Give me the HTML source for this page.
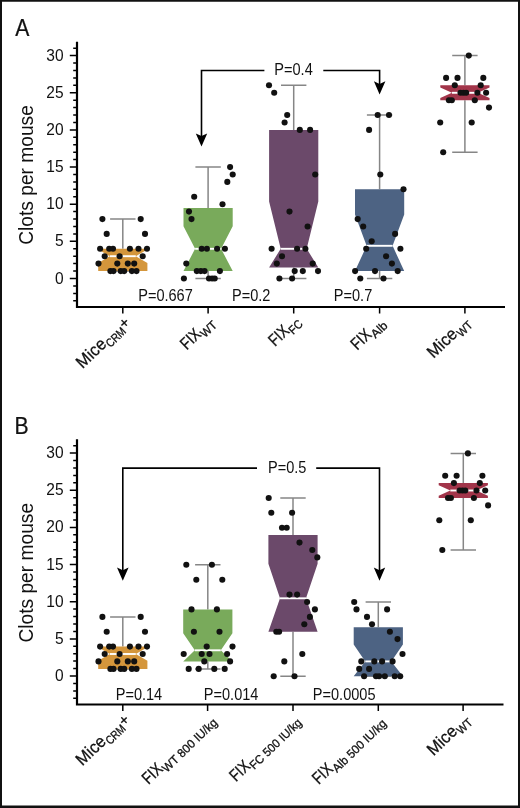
<!DOCTYPE html>
<html><head><meta charset="utf-8"><title>Figure</title>
<style>
html,body{margin:0;padding:0;background:#fff}
svg{display:block}
text{font-family:"Liberation Sans",sans-serif;fill:#111}
.tk{font-size:16px}
.pv{font-size:16px}
.yl{font-size:20.8px}
.pl{font-size:23.5px}
.xl{font-size:15px}
.xg text{stroke:#111;stroke-width:0.3px}
.pl{stroke:#111;stroke-width:0.25px}
</style></head><body>
<svg width="520" height="808" viewBox="0 0 520 808">
<rect x="0" y="0" width="520" height="808" fill="#fff"/>
<g id="panelA">
<path d="M77.0 41.7V307.0H505" stroke="#000" stroke-width="2.2" fill="none" stroke-linejoin="miter"/>
<path d="M73.2 300.8H77.0M73.2 293.4H77.0M73.2 285.9H77.0M69.8 278.5H77.0M73.2 271.1H77.0M73.2 263.6H77.0M73.2 256.2H77.0M73.2 248.8H77.0M69.8 241.3H77.0M73.2 233.9H77.0M73.2 226.5H77.0M73.2 219.1H77.0M73.2 211.6H77.0M69.8 204.2H77.0M73.2 196.8H77.0M73.2 189.3H77.0M73.2 181.9H77.0M73.2 174.5H77.0M69.8 167.1H77.0M73.2 159.6H77.0M73.2 152.2H77.0M73.2 144.8H77.0M73.2 137.3H77.0M69.8 129.9H77.0M73.2 122.5H77.0M73.2 115.0H77.0M73.2 107.6H77.0M73.2 100.2H77.0M69.8 92.8H77.0M73.2 85.3H77.0M73.2 77.9H77.0M73.2 70.5H77.0M73.2 63.0H77.0M69.8 55.6H77.0M73.2 48.2H77.0M122.8 307.0V313.6M208.1 307.0V313.6M293.7 307.0V313.6M379.6 307.0V313.6M464.9 307.0V313.6" stroke="#000" stroke-width="1.5" fill="none"/>
<text class="tk" transform="translate(63.6,283.5) scale(0.97,1)" text-anchor="end">0</text>
<text class="tk" transform="translate(63.6,246.3) scale(0.97,1)" text-anchor="end">5</text>
<text class="tk" transform="translate(63.6,209.2) scale(0.97,1)" text-anchor="end">10</text>
<text class="tk" transform="translate(63.6,172.1) scale(0.97,1)" text-anchor="end">15</text>
<text class="tk" transform="translate(63.6,134.9) scale(0.97,1)" text-anchor="end">20</text>
<text class="tk" transform="translate(63.6,97.8) scale(0.97,1)" text-anchor="end">25</text>
<text class="tk" transform="translate(63.6,60.6) scale(0.97,1)" text-anchor="end">30</text>
<path d="M122.8 248.8V219.1M110.1 219.1H135.5M122.8 271.1V271.1M110.1 271.1H135.5" stroke="#868686" stroke-width="1.5" fill="none"/>
<polygon fill="#D4963C" points="98.2,271.1 98.2,262.9 109.8,256.2 98.2,249.5 98.2,248.8 147.4,248.8 147.4,249.5 135.8,256.2 147.4,262.9 147.4,271.1"/>
<path d="M109.8 256.2H135.8" stroke="#fff" stroke-width="1.9"/>
<path d="M208.1 207.9V167.1M195.4 167.1H220.8M208.1 271.1V278.5M195.4 278.5H220.8" stroke="#868686" stroke-width="1.5" fill="none"/>
<polygon fill="#79AA5B" points="183.5,271.1 183.5,271.1 195.1,248.8 183.5,226.2 183.5,207.9 232.7,207.9 232.7,226.2 221.1,248.8 232.7,271.1 232.7,271.1"/>
<path d="M195.1 248.8H221.1" stroke="#fff" stroke-width="1.9"/>
<path d="M293.7 129.9V85.3M281.0 85.3H306.4M293.7 267.4V278.5M281.0 278.5H306.4" stroke="#868686" stroke-width="1.5" fill="none"/>
<polygon fill="#6B496A" points="269.1,267.4 269.1,267.4 280.7,248.8 269.1,201.6 269.1,129.9 318.3,129.9 318.3,201.6 306.7,248.8 318.3,267.4 318.3,267.4"/>
<path d="M280.7 248.8H306.7" stroke="#fff" stroke-width="1.9"/>
<path d="M379.6 189.3V115.0M366.9 115.0H392.3M379.6 271.1V278.5M366.9 278.5H392.3" stroke="#868686" stroke-width="1.5" fill="none"/>
<polygon fill="#4D6383" points="355.0,271.1 355.0,271.1 366.6,245.8 355.0,214.4 355.0,189.3 404.2,189.3 404.2,214.4 392.6,245.8 404.2,271.1 404.2,271.1"/>
<path d="M366.6 245.8H392.6" stroke="#fff" stroke-width="1.9"/>
<path d="M464.9 85.3V55.6M452.2 55.6H477.6M464.9 100.2V152.2M452.2 152.2H477.6" stroke="#868686" stroke-width="1.5" fill="none"/>
<polygon fill="#A2354A" points="440.3,100.2 440.3,98.0 451.9,92.8 440.3,87.5 440.3,85.3 489.5,85.3 489.5,87.5 477.9,92.8 489.5,98.0 489.5,100.2"/>
<path d="M451.9 92.8H477.9" stroke="#fff" stroke-width="1.9"/>
<g fill="#111"><circle cx="102.4" cy="219.1" r="3.05"/><circle cx="140.7" cy="219.1" r="3.05"/><circle cx="106.7" cy="233.9" r="3.05"/><circle cx="145.0" cy="233.9" r="3.05"/><circle cx="100.1" cy="248.8" r="3.05"/><circle cx="109.2" cy="248.8" r="3.05"/><circle cx="113.0" cy="248.8" r="3.05"/><circle cx="129.9" cy="248.8" r="3.05"/><circle cx="138.5" cy="248.8" r="3.05"/><circle cx="147.0" cy="248.8" r="3.05"/><circle cx="104.7" cy="256.2" r="3.05"/><circle cx="119.6" cy="256.2" r="3.05"/><circle cx="142.7" cy="256.2" r="3.05"/><circle cx="98.5" cy="263.6" r="3.05"/><circle cx="117.3" cy="263.6" r="3.05"/><circle cx="127.8" cy="263.6" r="3.05"/><circle cx="134.2" cy="263.6" r="3.05"/><circle cx="110.4" cy="271.1" r="3.05"/><circle cx="113.5" cy="271.1" r="3.05"/><circle cx="120.7" cy="271.1" r="3.05"/><circle cx="124.2" cy="271.1" r="3.05"/><circle cx="131.9" cy="271.1" r="3.05"/><circle cx="136.5" cy="271.1" r="3.05"/></g>
<g fill="#111"><circle cx="230.1" cy="167.1" r="3.05"/><circle cx="232.7" cy="174.5" r="3.05"/><circle cx="227.3" cy="181.9" r="3.05"/><circle cx="194.2" cy="196.8" r="3.05"/><circle cx="222.5" cy="204.2" r="3.05"/><circle cx="189.0" cy="211.6" r="3.05"/><circle cx="191.5" cy="219.1" r="3.05"/><circle cx="201.7" cy="248.8" r="3.05"/><circle cx="206.9" cy="248.8" r="3.05"/><circle cx="217.1" cy="248.8" r="3.05"/><circle cx="224.9" cy="248.8" r="3.05"/><circle cx="186.3" cy="263.6" r="3.05"/><circle cx="196.8" cy="271.1" r="3.05"/><circle cx="200.8" cy="271.1" r="3.05"/><circle cx="204.6" cy="271.1" r="3.05"/><circle cx="219.9" cy="271.1" r="3.05"/><circle cx="183.9" cy="278.5" r="3.05"/><circle cx="209.0" cy="278.5" r="3.05"/><circle cx="212.1" cy="278.5" r="3.05"/><circle cx="214.7" cy="278.5" r="3.05"/></g>
<g fill="#111"><circle cx="269.0" cy="85.3" r="3.05"/><circle cx="274.2" cy="92.8" r="3.05"/><circle cx="287.2" cy="115.0" r="3.05"/><circle cx="284.6" cy="122.5" r="3.05"/><circle cx="299.8" cy="129.9" r="3.05"/><circle cx="310.1" cy="129.9" r="3.05"/><circle cx="315.2" cy="174.5" r="3.05"/><circle cx="289.5" cy="211.6" r="3.05"/><circle cx="307.6" cy="226.5" r="3.05"/><circle cx="271.6" cy="248.8" r="3.05"/><circle cx="297.1" cy="248.8" r="3.05"/><circle cx="305.4" cy="248.8" r="3.05"/><circle cx="282.0" cy="256.2" r="3.05"/><circle cx="276.8" cy="263.6" r="3.05"/><circle cx="312.7" cy="263.6" r="3.05"/><circle cx="294.7" cy="271.1" r="3.05"/><circle cx="302.8" cy="271.1" r="3.05"/><circle cx="318.0" cy="271.1" r="3.05"/><circle cx="279.4" cy="278.5" r="3.05"/><circle cx="292.1" cy="278.5" r="3.05"/></g>
<g fill="#111"><circle cx="377.7" cy="115.0" r="3.05"/><circle cx="389.0" cy="115.0" r="3.05"/><circle cx="369.1" cy="129.9" r="3.05"/><circle cx="380.3" cy="174.5" r="3.05"/><circle cx="403.5" cy="189.3" r="3.05"/><circle cx="357.7" cy="219.1" r="3.05"/><circle cx="363.2" cy="226.5" r="3.05"/><circle cx="395.1" cy="233.9" r="3.05"/><circle cx="371.7" cy="241.3" r="3.05"/><circle cx="366.2" cy="248.8" r="3.05"/><circle cx="400.4" cy="248.8" r="3.05"/><circle cx="386.1" cy="256.2" r="3.05"/><circle cx="391.9" cy="263.6" r="3.05"/><circle cx="355.1" cy="271.1" r="3.05"/><circle cx="375.0" cy="271.1" r="3.05"/><circle cx="397.7" cy="271.1" r="3.05"/><circle cx="360.3" cy="278.5" r="3.05"/><circle cx="383.5" cy="278.5" r="3.05"/></g>
<g fill="#111"><circle cx="468.8" cy="55.6" r="3.05"/><circle cx="446.1" cy="77.9" r="3.05"/><circle cx="457.5" cy="77.9" r="3.05"/><circle cx="483.3" cy="77.9" r="3.05"/><circle cx="454.8" cy="85.3" r="3.05"/><circle cx="480.7" cy="85.3" r="3.05"/><circle cx="460.5" cy="92.8" r="3.05"/><circle cx="463.4" cy="92.8" r="3.05"/><circle cx="466.2" cy="92.8" r="3.05"/><circle cx="477.4" cy="92.8" r="3.05"/><circle cx="486.1" cy="92.8" r="3.05"/><circle cx="448.9" cy="100.2" r="3.05"/><circle cx="451.8" cy="100.2" r="3.05"/><circle cx="474.8" cy="100.2" r="3.05"/><circle cx="489.0" cy="107.6" r="3.05"/><circle cx="440.2" cy="122.5" r="3.05"/><circle cx="471.7" cy="122.5" r="3.05"/><circle cx="443.2" cy="152.2" r="3.05"/></g>
<path d="M201.5 138.6V70.5H264.4M323.3 70.5H379.6V86.5" stroke="#000" stroke-width="1.6" fill="none"/><polygon points="195.8,133.4 201.5,136.1 207.2,133.4 201.5,146.6" fill="#000"/><polygon points="373.9,81.3 379.6,84.0 385.4,81.3 379.6,94.5" fill="#000"/>
<text class="pv" transform="translate(274.3,74.8) scale(0.91,1)">P=0.4</text>
<text class="pv" transform="translate(138.2,300.8) scale(0.91,1)">P=0.667</text>
<text class="pv" transform="translate(232,300.8) scale(0.91,1)">P=0.2</text>
<text class="pv" transform="translate(333.8,300.8) scale(0.91,1)">P=0.7</text>
<text class="pl" transform="translate(15.3,36) scale(0.9,1)">A</text>
<text class="yl" transform="translate(33.3,244.8) rotate(-90) scale(0.923,1)">Clots per mouse</text>
<g class="xg" transform="translate(82.6,369.3) rotate(-44)"><text style="font-size:17.1px" transform="scale(0.96,1)">Mice</text><text style="font-size:12.0px" transform="translate(34.96,4.0) scale(0.83,1)">CRM</text><text style="font-size:15px" transform="translate(57.84,0.6000000000000001)">+</text></g>
<g class="xg" transform="translate(186.7,350.4) rotate(-44)"><text style="font-size:17.1px" transform="scale(0.8,1)">FIX</text><text style="font-size:12.0px" transform="translate(21.58,4.0) scale(0.96,1)">WT</text></g>
<g class="xg" transform="translate(275.0,347.0) rotate(-44)"><text style="font-size:17.1px" transform="scale(0.8,1)">FIX</text><text style="font-size:12.0px" transform="translate(21.58,4.0) scale(0.9,1)">FC</text></g>
<g class="xg" transform="translate(357.3,350.8) rotate(-44)"><text style="font-size:17.1px" transform="scale(0.8,1)">FIX</text><text style="font-size:12.0px" transform="translate(21.58,4.0) scale(1.02,1)">Alb</text></g>
<g class="xg" transform="translate(433.5,359.1) rotate(-44)"><text style="font-size:17.1px" transform="scale(0.96,1)">Mice</text><text style="font-size:12.0px" transform="translate(34.96,4.0) scale(0.9,1)">WT</text></g>
</g>
<g id="panelB">
<path d="M77.0 439.2V704.5H503.5" stroke="#000" stroke-width="2.2" fill="none" stroke-linejoin="miter"/>
<path d="M73.2 698.3H77.0M73.2 690.9H77.0M73.2 683.4H77.0M69.8 676.0H77.0M73.2 668.6H77.0M73.2 661.1H77.0M73.2 653.7H77.0M73.2 646.3H77.0M69.8 638.9H77.0M73.2 631.4H77.0M73.2 624.0H77.0M73.2 616.6H77.0M73.2 609.1H77.0M69.8 601.7H77.0M73.2 594.3H77.0M73.2 586.8H77.0M73.2 579.4H77.0M73.2 572.0H77.0M69.8 564.5H77.0M73.2 557.1H77.0M73.2 549.7H77.0M73.2 542.3H77.0M73.2 534.8H77.0M69.8 527.4H77.0M73.2 520.0H77.0M73.2 512.5H77.0M73.2 505.1H77.0M73.2 497.7H77.0M69.8 490.2H77.0M73.2 482.8H77.0M73.2 475.4H77.0M73.2 468.0H77.0M73.2 460.5H77.0M69.8 453.1H77.0M73.2 445.7H77.0M122.8 704.5V711.1M207.6 704.5V711.1M293 704.5V711.1M378.3 704.5V711.1M463.1 704.5V711.1" stroke="#000" stroke-width="1.5" fill="none"/>
<text class="tk" transform="translate(63.6,681.0) scale(0.97,1)" text-anchor="end">0</text>
<text class="tk" transform="translate(63.6,643.9) scale(0.97,1)" text-anchor="end">5</text>
<text class="tk" transform="translate(63.6,606.7) scale(0.97,1)" text-anchor="end">10</text>
<text class="tk" transform="translate(63.6,569.5) scale(0.97,1)" text-anchor="end">15</text>
<text class="tk" transform="translate(63.6,532.4) scale(0.97,1)" text-anchor="end">20</text>
<text class="tk" transform="translate(63.6,495.2) scale(0.97,1)" text-anchor="end">25</text>
<text class="tk" transform="translate(63.6,458.1) scale(0.97,1)" text-anchor="end">30</text>
<path d="M122.8 646.6V616.9M110.1 616.9H135.5M122.8 668.9V668.9M110.1 668.9H135.5" stroke="#868686" stroke-width="1.5" fill="none"/>
<polygon fill="#D4963C" points="98.2,668.9 98.2,660.7 109.8,654.0 98.2,647.3 98.2,646.6 147.4,646.6 147.4,647.3 135.8,654.0 147.4,660.7 147.4,668.9"/>
<path d="M109.8 654.0H135.8" stroke="#fff" stroke-width="1.9"/>
<path d="M207.8 609.4V564.8M195.1 564.8H220.5M207.8 661.4V668.9M195.1 668.9H220.5" stroke="#868686" stroke-width="1.5" fill="none"/>
<polygon fill="#79AA5B" points="183.2,661.4 183.2,661.4 194.8,650.3 183.2,633.2 183.2,609.4 232.4,609.4 232.4,633.2 220.8,650.3 232.4,661.4 232.4,661.4"/>
<path d="M194.8 650.3H220.8" stroke="#fff" stroke-width="1.9"/>
<path d="M293.0 535.1V498.0M280.3 498.0H305.7M293.0 631.7V676.3M280.3 676.3H305.7" stroke="#868686" stroke-width="1.5" fill="none"/>
<polygon fill="#6B496A" points="268.4,631.7 268.4,631.7 280.0,598.3 268.4,563.7 268.4,535.1 317.6,535.1 317.6,563.7 306.0,598.3 317.6,631.7 317.6,631.7"/>
<path d="M280.0 598.3H306.0" stroke="#fff" stroke-width="1.9"/>
<path d="M378.3 627.3V602.0M365.6 602.0H391.0M378.3 676.3V676.3M365.6 676.3H391.0" stroke="#868686" stroke-width="1.5" fill="none"/>
<polygon fill="#4D6383" points="353.7,676.3 353.7,676.3 365.3,661.4 353.7,644.4 353.7,627.3 402.9,627.3 402.9,644.4 391.3,661.4 402.9,676.3 402.9,676.3"/>
<path d="M365.3 661.4H391.3" stroke="#fff" stroke-width="1.9"/>
<path d="M463.3 483.1V453.4M450.6 453.4H476.0M463.3 498.0V550.0M450.6 550.0H476.0" stroke="#868686" stroke-width="1.5" fill="none"/>
<polygon fill="#A2354A" points="438.7,498.0 438.7,495.8 450.3,490.5 438.7,485.3 438.7,483.1 487.9,483.1 487.9,485.3 476.3,490.5 487.9,495.8 487.9,498.0"/>
<path d="M450.3 490.5H476.3" stroke="#fff" stroke-width="1.9"/>
<g fill="#111"><circle cx="102.4" cy="616.9" r="3.05"/><circle cx="140.7" cy="616.9" r="3.05"/><circle cx="106.7" cy="631.7" r="3.05"/><circle cx="145.0" cy="631.7" r="3.05"/><circle cx="100.1" cy="646.6" r="3.05"/><circle cx="109.2" cy="646.6" r="3.05"/><circle cx="113.0" cy="646.6" r="3.05"/><circle cx="129.9" cy="646.6" r="3.05"/><circle cx="138.5" cy="646.6" r="3.05"/><circle cx="147.0" cy="646.6" r="3.05"/><circle cx="104.7" cy="654.0" r="3.05"/><circle cx="119.6" cy="654.0" r="3.05"/><circle cx="142.7" cy="654.0" r="3.05"/><circle cx="98.5" cy="661.4" r="3.05"/><circle cx="117.3" cy="661.4" r="3.05"/><circle cx="127.8" cy="661.4" r="3.05"/><circle cx="134.2" cy="661.4" r="3.05"/><circle cx="110.4" cy="668.9" r="3.05"/><circle cx="113.5" cy="668.9" r="3.05"/><circle cx="120.7" cy="668.9" r="3.05"/><circle cx="124.2" cy="668.9" r="3.05"/><circle cx="131.9" cy="668.9" r="3.05"/><circle cx="136.5" cy="668.9" r="3.05"/></g>
<g fill="#111"><circle cx="186.3" cy="564.8" r="3.05"/><circle cx="211.9" cy="564.8" r="3.05"/><circle cx="196.3" cy="579.7" r="3.05"/><circle cx="222.3" cy="579.7" r="3.05"/><circle cx="191.5" cy="609.4" r="3.05"/><circle cx="216.9" cy="609.4" r="3.05"/><circle cx="193.9" cy="631.7" r="3.05"/><circle cx="219.5" cy="631.7" r="3.05"/><circle cx="206.7" cy="646.6" r="3.05"/><circle cx="232.5" cy="646.6" r="3.05"/><circle cx="183.7" cy="654.0" r="3.05"/><circle cx="201.7" cy="654.0" r="3.05"/><circle cx="209.5" cy="654.0" r="3.05"/><circle cx="227.1" cy="654.0" r="3.05"/><circle cx="204.3" cy="661.4" r="3.05"/><circle cx="230.1" cy="661.4" r="3.05"/><circle cx="188.7" cy="668.9" r="3.05"/><circle cx="198.7" cy="668.9" r="3.05"/><circle cx="214.3" cy="668.9" r="3.05"/><circle cx="224.7" cy="668.9" r="3.05"/></g>
<g fill="#111"><circle cx="268.7" cy="498.0" r="3.05"/><circle cx="271.3" cy="512.8" r="3.05"/><circle cx="292.1" cy="512.8" r="3.05"/><circle cx="282.0" cy="527.7" r="3.05"/><circle cx="286.7" cy="527.7" r="3.05"/><circle cx="299.5" cy="542.6" r="3.05"/><circle cx="312.3" cy="550.0" r="3.05"/><circle cx="317.3" cy="557.4" r="3.05"/><circle cx="289.5" cy="594.6" r="3.05"/><circle cx="297.1" cy="594.6" r="3.05"/><circle cx="307.1" cy="602.0" r="3.05"/><circle cx="314.9" cy="609.4" r="3.05"/><circle cx="309.9" cy="616.9" r="3.05"/><circle cx="304.3" cy="624.3" r="3.05"/><circle cx="276.3" cy="631.7" r="3.05"/><circle cx="279.1" cy="631.7" r="3.05"/><circle cx="302.3" cy="654.0" r="3.05"/><circle cx="284.3" cy="661.4" r="3.05"/><circle cx="273.7" cy="676.3" r="3.05"/><circle cx="294.5" cy="676.3" r="3.05"/></g>
<g fill="#111"><circle cx="354.2" cy="602.0" r="3.05"/><circle cx="356.5" cy="609.4" r="3.05"/><circle cx="387.1" cy="609.4" r="3.05"/><circle cx="367.0" cy="616.9" r="3.05"/><circle cx="372.0" cy="624.3" r="3.05"/><circle cx="389.9" cy="631.7" r="3.05"/><circle cx="397.5" cy="639.1" r="3.05"/><circle cx="402.5" cy="654.0" r="3.05"/><circle cx="361.3" cy="661.4" r="3.05"/><circle cx="374.3" cy="661.4" r="3.05"/><circle cx="382.1" cy="661.4" r="3.05"/><circle cx="392.6" cy="661.4" r="3.05"/><circle cx="359.2" cy="668.9" r="3.05"/><circle cx="369.1" cy="668.9" r="3.05"/><circle cx="364.1" cy="676.3" r="3.05"/><circle cx="376.0" cy="676.3" r="3.05"/><circle cx="379.1" cy="676.3" r="3.05"/><circle cx="384.8" cy="676.3" r="3.05"/><circle cx="394.7" cy="676.3" r="3.05"/><circle cx="400.2" cy="676.3" r="3.05"/></g>
<g fill="#111"><circle cx="467.9" cy="453.4" r="3.05"/><circle cx="445.2" cy="475.7" r="3.05"/><circle cx="456.6" cy="475.7" r="3.05"/><circle cx="482.4" cy="475.7" r="3.05"/><circle cx="453.9" cy="483.1" r="3.05"/><circle cx="479.8" cy="483.1" r="3.05"/><circle cx="459.6" cy="490.5" r="3.05"/><circle cx="462.5" cy="490.5" r="3.05"/><circle cx="465.3" cy="490.5" r="3.05"/><circle cx="476.5" cy="490.5" r="3.05"/><circle cx="485.2" cy="490.5" r="3.05"/><circle cx="448.0" cy="498.0" r="3.05"/><circle cx="450.9" cy="498.0" r="3.05"/><circle cx="473.9" cy="498.0" r="3.05"/><circle cx="488.1" cy="505.4" r="3.05"/><circle cx="439.3" cy="520.3" r="3.05"/><circle cx="470.8" cy="520.3" r="3.05"/><circle cx="442.3" cy="550.0" r="3.05"/></g>
<path d="M122.8 572.7V468.1H257M316.2 468.1H379.5V572.7" stroke="#000" stroke-width="1.6" fill="none"/><polygon points="117.0,567.5 122.8,570.2 128.6,567.5 122.8,580.7" fill="#000"/><polygon points="373.8,567.5 379.5,570.2 385.2,567.5 379.5,580.7" fill="#000"/>
<text class="pv" transform="translate(268,472.9) scale(0.91,1)">P=0.5</text>
<text class="pv" transform="translate(115.7,699.8) scale(0.91,1)">P=0.14</text>
<text class="pv" transform="translate(203.8,699.8) scale(0.91,1)">P=0.014</text>
<text class="pv" transform="translate(312.8,699.8) scale(0.91,1)">P=0.0005</text>
<text class="pl" transform="translate(14.6,434.2) scale(0.9,1)">B</text>
<text class="yl" transform="translate(33.3,642.6) rotate(-90) scale(0.923,1)">Clots per mouse</text>
<g class="xg" transform="translate(82.2,766.6) rotate(-44)"><text style="font-size:17.1px" transform="scale(0.96,1)">Mice</text><text style="font-size:12.0px" transform="translate(34.96,4.0) scale(0.83,1)">CRM</text><text style="font-size:15px" transform="translate(57.84,0.6000000000000001)">+</text></g>
<g class="xg" transform="translate(148.5,785.0) rotate(-44)"><text style="font-size:17.1px" transform="scale(0.8,1)">FIX</text><text style="font-size:12.0px" transform="translate(21.58,4.0) scale(0.975,1)">WT 800 IU/kg</text></g>
<g class="xg" transform="translate(236.0,782.2) rotate(-44)"><text style="font-size:17.1px" transform="scale(0.8,1)">FIX</text><text style="font-size:12.0px" transform="translate(21.58,4.0) scale(0.95,1)">FC 500 IU/kg</text></g>
<g class="xg" transform="translate(318.7,785.0) rotate(-44)"><text style="font-size:17.1px" transform="scale(0.8,1)">FIX</text><text style="font-size:12.0px" transform="translate(21.58,4.0) scale(0.97,1)">Alb 500 IU/kg</text></g>
<g class="xg" transform="translate(433.4,756.4) rotate(-44)"><text style="font-size:17.1px" transform="scale(0.96,1)">Mice</text><text style="font-size:12.0px" transform="translate(34.96,4.0) scale(0.9,1)">WT</text></g>
</g>
<path d="M1 0V808M519 0V808" stroke="#111" stroke-width="2"/>
<path d="M0 0.9H520" stroke="#111" stroke-width="1.8"/>
<path d="M0 806.7H520" stroke="#111" stroke-width="2.6"/>
</svg></body></html>
